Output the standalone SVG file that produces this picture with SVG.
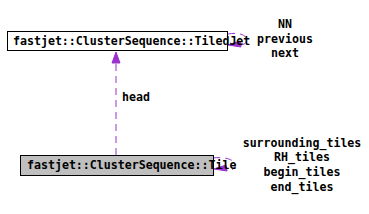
<svg xmlns="http://www.w3.org/2000/svg" width="369" height="214" viewBox="0 0 369 214">
<style>
text{font-family:"DejaVu Sans Mono","Liberation Mono",monospace;font-weight:bold;font-size:11.6px;fill:#000}
.lbl{text-anchor:middle}
.edge{fill:none;stroke:#9a32cd;stroke-width:1;stroke-dasharray:7,5}
.head{fill:#9a32cd;stroke:#9a32cd}
</style>
<rect width="369" height="214" fill="#fff"/>
<g id="connectors">
<path class="edge" d="M116,155 L116,62"/>
<polygon class="head" points="116,52 112,63 120,63"/>
<text x="122" y="101">head</text>
<path class="edge" d="M228,34 C250,30 252,46 238,45"/>
<polygon class="head" points="228,45 240,41 241,47"/>
<text class="lbl" x="285" y="28">NN</text>
<text class="lbl" x="285" y="43">previous</text>
<text class="lbl" x="285" y="57">next</text>
<path class="edge" d="M213,158 C240,155 240,172 226,170"/>
<polygon class="head" points="214,169 226,165 227,171"/>
<text class="lbl" x="302" y="147">surrounding_tiles</text>
<text class="lbl" x="302" y="161">RH_tiles</text>
<text class="lbl" x="302" y="176">begin_tiles</text>
<text class="lbl" x="302" y="191">end_tiles</text>
</g>
<g id="node-tiledjet">
<rect x="7.5" y="31.5" width="220" height="19" fill="#fff" stroke="#000"/>
<text x="13" y="45">fastjet::ClusterSequence::TiledJet</text>
</g>
<g id="node-tile">
<rect x="20.5" y="155.5" width="193" height="20" fill="#bfbfbf" stroke="#000"/>
<text x="27" y="169">fastjet::ClusterSequence::Tile</text>
</g>
</svg>
